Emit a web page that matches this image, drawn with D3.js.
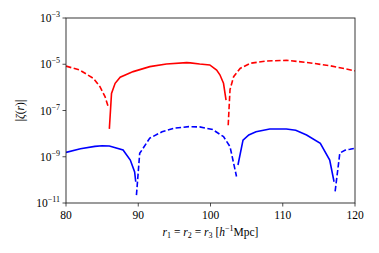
<!DOCTYPE html>
<html>
<head>
<meta charset="utf-8">
<script src="https://cdn.jsdelivr.net/npm/d3@7"></script>
<style>
body { margin: 0; background: #fff; }
text { font-family: "Liberation Serif", "DejaVu Serif", serif; }
</style>
</head>
<body>
<script>
// r values and signed zeta for both lines (sign -> solid / dashed)
var rRed = [80, 81.9, 83.8, 84.7, 85.4, 85.85,
  86.0, 86.3, 86.8, 87.5, 89.3, 91.6, 93.9, 96.7, 97.2, 98.5, 99.9, 100.85, 101.3, 101.8, 102.15,
  102.45, 102.7, 103.2, 104.1, 105.5, 107.8, 110.5, 113.3, 116.5, 120];
var zetaRed = [-8.3e-6, -5.6e-6, -2.45e-6, -1.07e-6, -4.0e-7, -1.45e-7,
  1.6e-8, 5.5e-7, 1.5e-6, 2.75e-6, 4.8e-6, 7.9e-6, 1.02e-5, 1.17e-5, 1.15e-5, 1.02e-5, 9.3e-6, 5.6e-6, 3.5e-6, 1.5e-6, 2.8e-7,
  -2.3e-8, -8.0e-7, -2.9e-6, -6.6e-6, -1.1e-5, -1.38e-5, -1.48e-5, -1.2e-5, -8.7e-6, -5.2e-6];

var rBlue = [80, 82, 84, 85, 86, 87.9, 88.9, 89.5, 89.65,
  89.75, 90.2, 91.6, 93.3, 95.1, 97, 98.5, 100.3, 101.8, 102.7, 103.6,
  103.8, 104.5, 105.3, 106.3, 108.2, 110.5, 111.8, 113.3, 115.2, 116.5, 117.1,
  117.25, 117.9, 118.6, 119.3, 120];
var zetaBlue = [1.55e-9, 2.2e-9, 2.8e-9, 3.0e-9, 2.9e-9, 1.95e-9, 7.2e-10, 2.2e-10, 8.3e-11,
  -2.2e-11, -1.4e-9, -6.4e-9, -1.2e-8, -1.75e-8, -2.0e-8, -1.95e-8, -1.5e-8, -7.4e-9, -2.75e-9, -1.4e-10,
  4.4e-10, 5.2e-9, 8.8e-9, 1.2e-8, 1.58e-8, 1.58e-8, 1.4e-8, 8.7e-9, 3.8e-9, 7.2e-10, 8.3e-11,
  -3.2e-11, -1.45e-9, -1.9e-9, -2.1e-9, -2.35e-9];

var xTicks = [80, 90, 100, 110, 120];
var yTicks = [-3, -5, -7, -9, -11];

var width = 379, height = 253;
var margin = {left: 66, right: 24, top: 18, bottom: 50};

var svg = d3.select('body').append('svg')
  .attr('width', width)
  .attr('height', height);

var x = d3.scaleLinear().domain([80, 120]).range([margin.left, width - margin.right]);
var y = d3.scaleLog().domain([1e-11, 1e-3]).range([height - margin.bottom, margin.top]);

var clip = svg.append('clipPath').attr('id', 'clip').append('rect')
  .attr('x', margin.left).attr('y', margin.top)
  .attr('width', width - margin.left - margin.right)
  .attr('height', height - margin.top - margin.bottom);

// split each series into runs of the same sign
function runs(rs, zs) {
  var out = [], cur = null;
  for (var i = 0; i < rs.length; i++) {
    var s = zs[i] > 0 ? 1 : -1;
    if (!cur || cur.sign != s) { cur = {sign: s, pts: []}; out.push(cur); }
    cur.pts.push([rs[i], Math.abs(zs[i])]);
  }
  return out;
}

var line = d3.line()
  .x(function(d){ return x(d[0]); })
  .y(function(d){ return y(d[1]); });

var g = svg.append('g').attr('clip-path', 'url(#clip)');
[[rRed, zetaRed, 'red'], [rBlue, zetaBlue, 'blue']].forEach(function(s){
  g.selectAll(null).data(runs(s[0], s[1])).enter()
    .append('path')
    .attr('d', function(d){ return line(d.pts); })
    .attr('fill', 'none')
    .attr('stroke', s[2])
    .attr('stroke-width', 1.6)
    .attr('stroke-dasharray', function(d){ return d.sign < 0 ? '5.5,2.5' : null; });
});

// frame
svg.append('rect')
  .attr('x', margin.left).attr('y', margin.top)
  .attr('width', width - margin.left - margin.right)
  .attr('height', height - margin.top - margin.bottom)
  .attr('fill', 'none').attr('stroke', '#222').attr('stroke-width', 0.9);

// x axis
var xa = svg.append('g');
xa.selectAll('line').data(xTicks).enter().append('line')
  .attr('x1', function(d){ return x(d); }).attr('x2', function(d){ return x(d); })
  .attr('y1', height - margin.bottom).attr('y2', height - margin.bottom + 3.5)
  .attr('stroke', '#222').attr('stroke-width', 0.8);
xa.selectAll('text').data(xTicks).enter().append('text')
  .attr('x', function(d){ return x(d); })
  .attr('y', height - margin.bottom + 16)
  .attr('text-anchor', 'middle')
  .attr('font-size', 11.5)
  .text(function(d){ return d; });

// y axis
var ya = svg.append('g');
ya.selectAll('line').data(yTicks).enter().append('line')
  .attr('x1', margin.left - 3.5).attr('x2', margin.left)
  .attr('y1', function(d){ return y(Math.pow(10, d)); })
  .attr('y2', function(d){ return y(Math.pow(10, d)); })
  .attr('stroke', '#222').attr('stroke-width', 0.8);
var yl = ya.selectAll('text').data(yTicks).enter().append('text')
  .attr('x', margin.left - 6)
  .attr('y', function(d){ return y(Math.pow(10, d)) + 4; })
  .attr('text-anchor', 'end')
  .attr('font-size', 11.5);
yl.append('tspan').text('10');
yl.append('tspan').attr('dy', -5).attr('font-size', 8).text(function(d){ return '\u2212' + (-d); });

// axis labels
var xl = svg.append('text')
  .attr('x', (margin.left + width - margin.right) / 2)
  .attr('y', 236)
  .attr('text-anchor', 'middle')
  .attr('font-size', 11.5);
xl.append('tspan').attr('font-style', 'italic').text('r');
xl.append('tspan').attr('font-size', 8).attr('dy', 2).text('1');
xl.append('tspan').attr('dy', -2).text(' = ');
xl.append('tspan').attr('font-style', 'italic').text('r');
xl.append('tspan').attr('font-size', 8).attr('dy', 2).text('2');
xl.append('tspan').attr('dy', -2).text(' = ');
xl.append('tspan').attr('font-style', 'italic').text('r');
xl.append('tspan').attr('font-size', 8).attr('dy', 2).text('3');
xl.append('tspan').attr('dy', -2).text(' [');
xl.append('tspan').attr('font-style', 'italic').text('h');
xl.append('tspan').attr('font-size', 8).attr('dy', -5).text('\u22121');
xl.append('tspan').attr('dy', 5).text('Mpc]');

var ylab = svg.append('text')
  .attr('transform', 'translate(24,' + ((margin.top + height - margin.bottom) / 2) + ') rotate(-90)')
  .attr('text-anchor', 'middle')
  .attr('font-size', 11.5);
ylab.append('tspan').text('|');
ylab.append('tspan').attr('font-style', 'italic').text('\u03B6');
ylab.append('tspan').text('(');
ylab.append('tspan').attr('font-style', 'italic').text('r');
ylab.append('tspan').text(')|');
</script>
</body>
</html>
